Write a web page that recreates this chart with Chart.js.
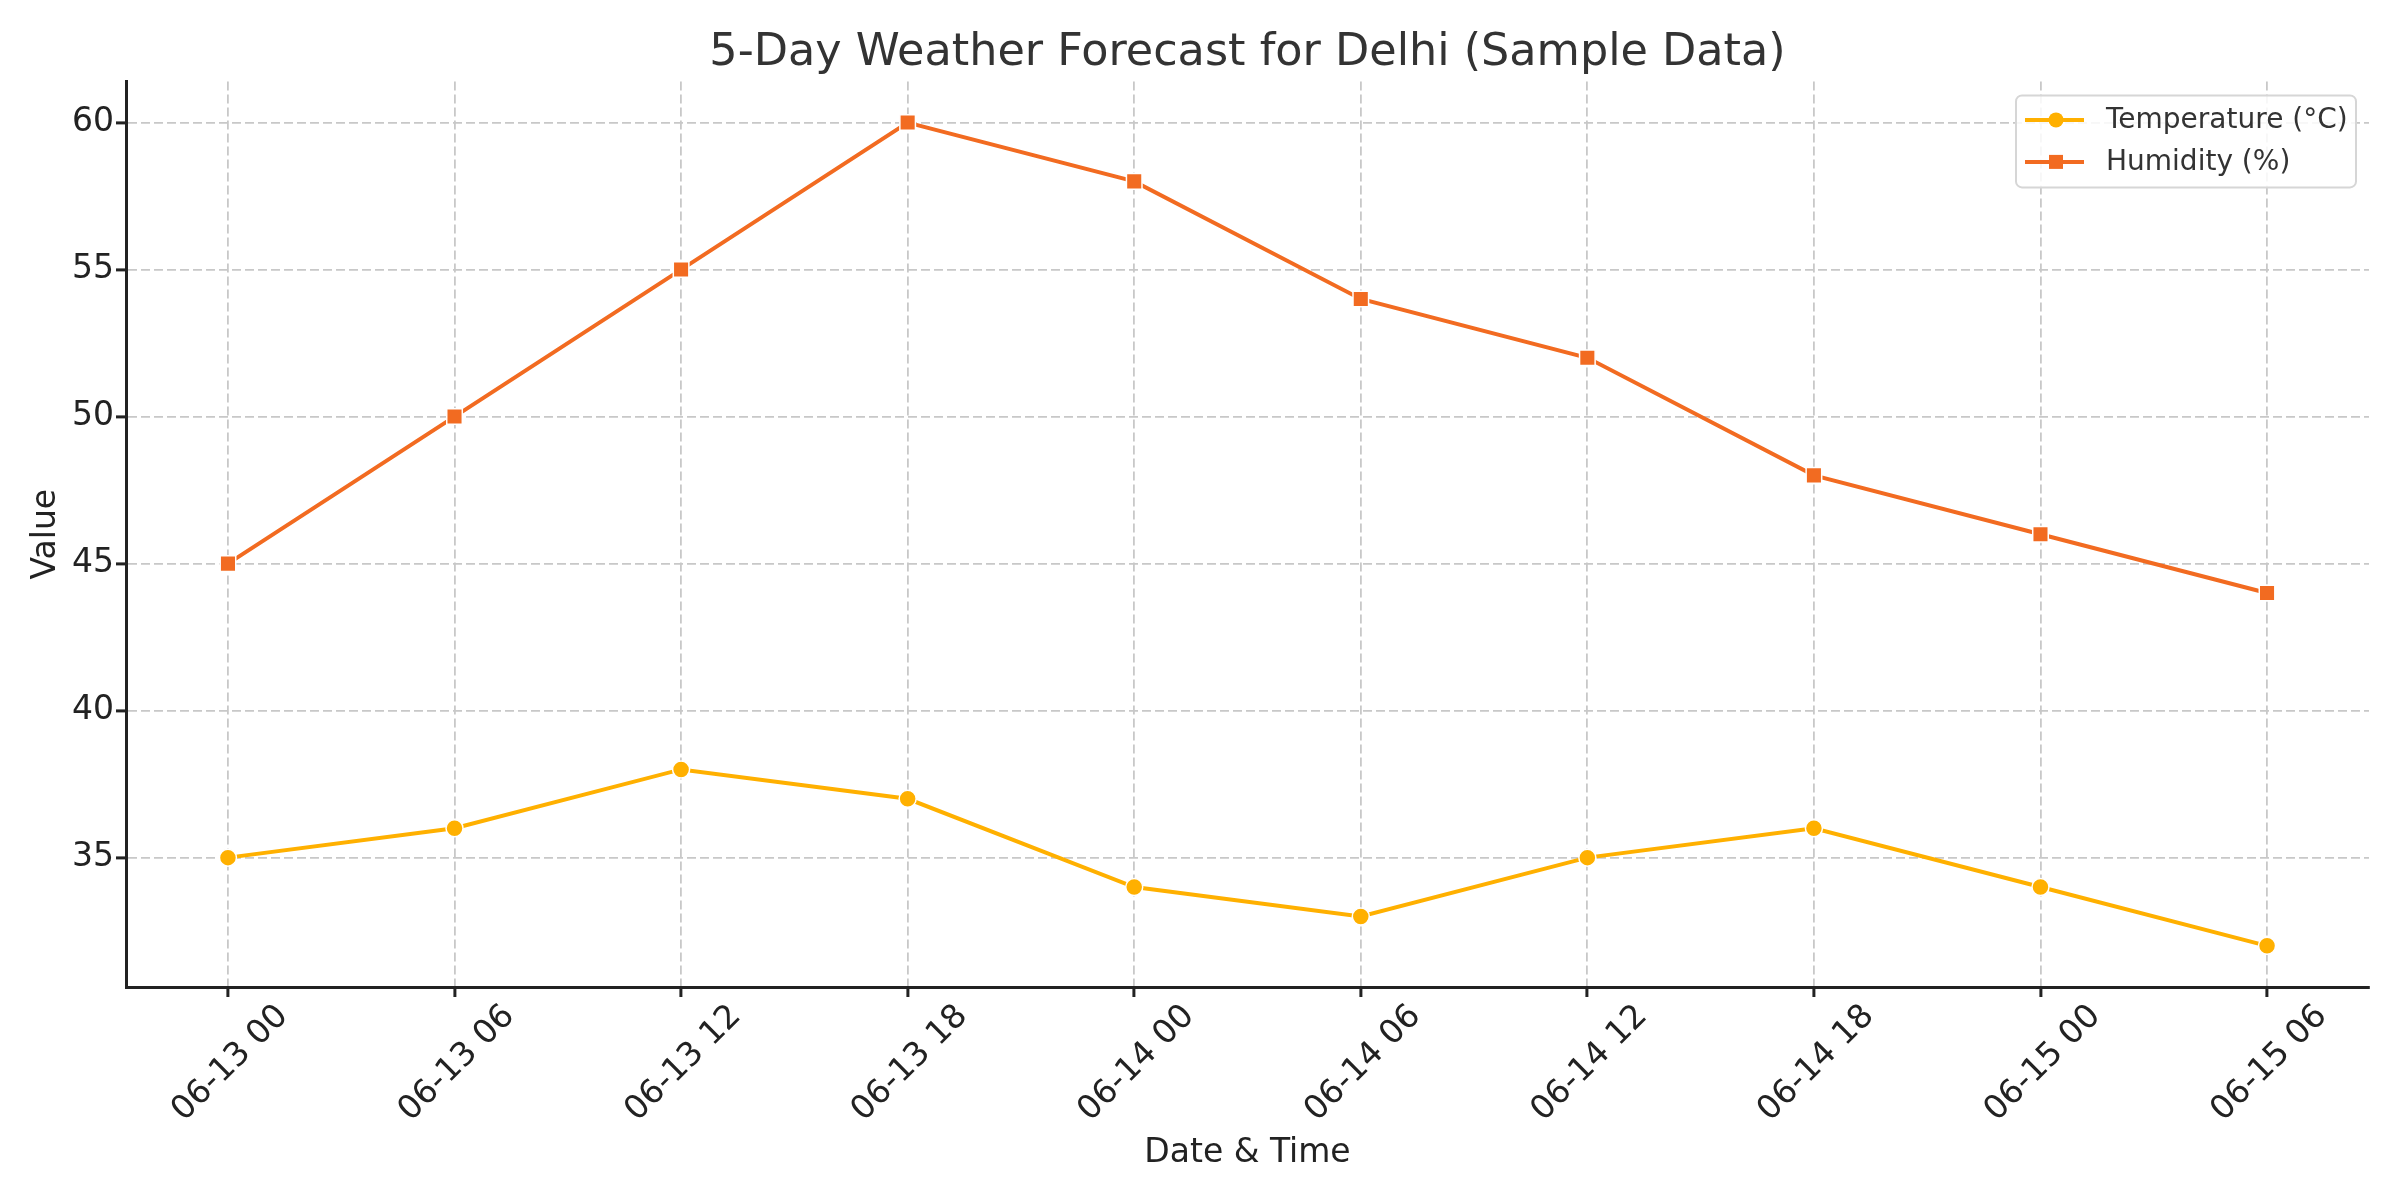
<!DOCTYPE html>
<html>
<head>
<meta charset="utf-8">
<script src="https://cdn.jsdelivr.net/npm/chart.js@4.4.1/dist/chart.umd.min.js"></script>
<style>
  html, body { margin: 0; padding: 0; background: #fff; }
  canvas { display: block; }
</style>
</head>
<body>
<canvas id="grafico" width="2400" height="1200"></canvas>
<script>
const timeLabels = ['06-13 00', '06-13 06', '06-13 12', '06-13 18', '06-14 00',
                    '06-14 06', '06-14 12', '06-14 18', '06-15 00', '06-15 06'];
const temperature = [35, 36, 38, 37, 34, 33, 35, 36, 34, 32];
const humidity = [45, 50, 55, 60, 58, 54, 52, 48, 46, 44];
const yTicks = [35, 40, 45, 50, 55, 60];

const corTemp = '#FFB000';
const corUmid = '#F26B21';
const fonte = "'DejaVu Sans', sans-serif";

function pontos(valores) {
    return valores.map((v, i) => ({ x: i, y: v }));
}

// legenda desenhada à mão: linha + marcador, como no matplotlib
const legendaCaixa = {
    id: 'legendaCaixa',
    afterDraw(chart) {
        const { ctx, chartArea } = chart;
        const w = 340, h = 92;
        const x0 = chartArea.right - 13 - w;
        const y0 = chartArea.top + 14;

        ctx.save();
        ctx.beginPath();
        ctx.roundRect(x0, y0, w, h, 6);
        ctx.fillStyle = 'rgba(255,255,255,0.85)';
        ctx.fill();
        ctx.lineWidth = 2;
        ctx.strokeStyle = '#d6d6d6';
        ctx.stroke();

        chart.data.datasets.forEach((ds, i) => {
            const cy = y0 + 24.5 + i * 42;
            ctx.beginPath();
            ctx.moveTo(x0 + 9, cy);
            ctx.lineTo(x0 + 68, cy);
            ctx.lineWidth = 4;
            ctx.strokeStyle = ds.borderColor;
            ctx.stroke();
            ctx.fillStyle = ds.borderColor;
            if (ds.pointStyle === 'rect') {
                ctx.fillRect(x0 + 33, cy - 7, 14, 14);
            } else {
                ctx.beginPath();
                ctx.arc(x0 + 40, cy, 7.5, 0, Math.PI * 2);
                ctx.fill();
            }
            ctx.fillStyle = '#333';
            ctx.font = '28px ' + fonte;
            ctx.textBaseline = 'middle';
            ctx.fillText(ds.label, x0 + 90, cy + 1);
        });
        ctx.restore();
    }
};

new Chart(document.getElementById('grafico').getContext('2d'), {
    type: 'line',
    data: {
        datasets: [{
            label: 'Temperature (°C)',
            data: pontos(temperature),
            borderColor: corTemp,
            backgroundColor: corTemp,
            pointBackgroundColor: corTemp,
            pointBorderColor: '#fff',
            pointBorderWidth: 1.5,
            pointRadius: 8.5,
            pointStyle: 'circle',
            borderWidth: 4,
            tension: 0,
            fill: false
        }, {
            label: 'Humidity (%)',
            data: pontos(humidity),
            borderColor: corUmid,
            backgroundColor: corUmid,
            pointBackgroundColor: corUmid,
            pointBorderColor: '#fff',
            pointBorderWidth: 1.5,
            pointRadius: 11,
            pointStyle: 'rect',
            borderWidth: 4,
            tension: 0,
            fill: false
        }]
    },
    options: {
        responsive: false,
        animation: false,
        devicePixelRatio: 1,
        layout: { padding: { left: 0, right: 31, top: 0, bottom: 0 } },
        plugins: {
            legend: { display: false },
            tooltip: { enabled: false },
            title: {
                display: true,
                fullSize: false,
                text: '5-Day Weather Forecast for Delhi (Sample Data)',
                color: '#333',
                font: { family: fonte, size: 44.5, weight: 'normal' },
                padding: { top: 27, bottom: 1 }
            }
        },
        scales: {
            x: {
                type: 'linear',
                min: -0.45,
                max: 9.45,
                afterBuildTicks: scale => {
                    scale.ticks = timeLabels.map((_, i) => ({ value: i }));
                },
                afterFit: scale => { scale.height = 213; },
                ticks: {
                    callback: v => timeLabels[v],
                    minRotation: 45,
                    maxRotation: 45,
                    autoSkip: false,
                    labelOffset: 55,
                    padding: 0,
                    color: '#222',
                    font: { family: fonte, size: 33 }
                },
                grid: {
                    color: '#c8c8c8',
                    lineWidth: 1.8,
                    tickLength: 10,
                    tickColor: '#222',
                    tickWidth: 3
                },
                border: { display: true, color: '#222', width: 3, dash: [9, 4] },
                title: {
                    display: true,
                    text: 'Date & Time',
                    color: '#222',
                    font: { family: fonte, size: 33 },
                    padding: { top: 0, bottom: 27 }
                }
            },
            y: {
                min: 30.6,
                max: 61.4,
                afterBuildTicks: scale => {
                    scale.ticks = yTicks.map(v => ({ value: v }));
                },
                afterFit: scale => { scale.width = 126; },
                ticks: {
                    padding: 2,
                    color: '#222',
                    font: { family: fonte, size: 33 }
                },
                grid: {
                    color: '#c8c8c8',
                    lineWidth: 1.8,
                    tickLength: 10,
                    tickColor: '#222',
                    tickWidth: 3
                },
                border: { display: true, color: '#222', width: 3, dash: [9, 4] },
                title: {
                    display: true,
                    text: 'Value',
                    color: '#222',
                    font: { family: fonte, size: 33 },
                    padding: { top: 27, bottom: 0 }
                }
            }
        }
    },
    plugins: [legendaCaixa]
});
</script>
</body>
</html>
